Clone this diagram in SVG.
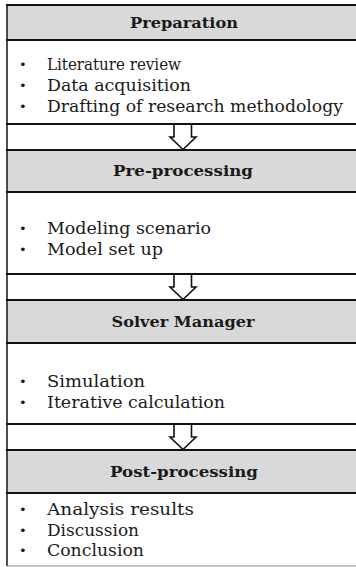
<svg xmlns="http://www.w3.org/2000/svg" width="356" height="567" viewBox="0 0 356 567">
<style>
.hdr{fill:#d9d9d9;stroke:none}
.sep{stroke:#111;stroke-width:2.2;fill:none}
.ht{font-family:"DejaVu Serif","Liberation Serif",serif;font-weight:bold;font-size:15.5px;fill:#1a1a1a;text-anchor:middle}
.it{font-family:"DejaVu Serif","Liberation Serif",serif;font-size:16.5px;fill:#1a1a1a}
.bl{font-family:"DejaVu Sans","Liberation Sans",sans-serif;font-size:13px;fill:#1a1a1a}
.arr{fill:#fff;stroke:#111;stroke-width:1.6;stroke-linejoin:miter}
</style>
<rect x="0" y="0" width="356" height="567" fill="#fff"/>
<g id="preparation">
<rect class="hdr" x="7" y="5" width="352" height="35"/>
<text class="ht" x="184" y="28" textLength="108" lengthAdjust="spacingAndGlyphs">Preparation</text>
<text class="bl" x="19" y="69">•</text><text class="it" x="47" y="70" textLength="134" lengthAdjust="spacingAndGlyphs">Literature review</text>
<text class="bl" x="19" y="90">•</text><text class="it" x="47" y="91" textLength="144" lengthAdjust="spacingAndGlyphs">Data acquisition</text>
<text class="bl" x="19" y="111">•</text><text class="it" x="47" y="112" textLength="296" lengthAdjust="spacingAndGlyphs">Drafting of research methodology</text>
</g>
<g id="pre-processing">
<rect class="hdr" x="7" y="150" width="352" height="42"/>
<text class="ht" x="183" y="176" textLength="140" lengthAdjust="spacingAndGlyphs">Pre-processing</text>
<text class="bl" x="19" y="233">•</text><text class="it" x="47" y="234" textLength="164" lengthAdjust="spacingAndGlyphs">Modeling scenario</text>
<text class="bl" x="19" y="254">•</text><text class="it" x="47" y="255" textLength="116" lengthAdjust="spacingAndGlyphs">Model set up</text>
</g>
<g id="solver-manager">
<rect class="hdr" x="7" y="300" width="352" height="43"/>
<text class="ht" x="183" y="327" textLength="143" lengthAdjust="spacingAndGlyphs">Solver Manager</text>
<text class="bl" x="19" y="386">•</text><text class="it" x="47" y="387" textLength="98" lengthAdjust="spacingAndGlyphs">Simulation</text>
<text class="bl" x="19" y="407">•</text><text class="it" x="47" y="408" textLength="178" lengthAdjust="spacingAndGlyphs">Iterative calculation</text>
</g>
<g id="post-processing">
<rect class="hdr" x="7" y="450" width="352" height="43"/>
<text class="ht" x="184" y="477" textLength="148" lengthAdjust="spacingAndGlyphs">Post-processing</text>
<text class="bl" x="19" y="514">•</text><text class="it" x="47" y="515" textLength="147" lengthAdjust="spacingAndGlyphs">Analysis results</text>
<text class="bl" x="19" y="535">•</text><text class="it" x="47" y="536" textLength="92" lengthAdjust="spacingAndGlyphs">Discussion</text>
<text class="bl" x="19" y="555">•</text><text class="it" x="47" y="556" textLength="97" lengthAdjust="spacingAndGlyphs">Conclusion</text>
</g>
<g id="frame">
<line x1="7" y1="4.5" x2="7" y2="566" stroke="#222" stroke-width="1.6"/>
<line x1="7" y1="566" x2="360" y2="566" stroke="#888" stroke-width="1.2"/>
<line class="sep" x1="6" y1="5" x2="360" y2="5"/>
<line class="sep" x1="6" y1="40" x2="360" y2="40"/>
<line class="sep" x1="6" y1="124" x2="360" y2="124"/>
<line class="sep" x1="6" y1="150" x2="360" y2="150"/>
<line class="sep" x1="6" y1="192" x2="360" y2="192"/>
<line class="sep" x1="6" y1="274" x2="360" y2="274"/>
<line class="sep" x1="6" y1="300" x2="360" y2="300"/>
<line class="sep" x1="6" y1="343" x2="360" y2="343"/>
<line class="sep" x1="6" y1="424" x2="360" y2="424"/>
<line class="sep" x1="6" y1="450" x2="360" y2="450"/>
<line class="sep" x1="6" y1="493" x2="360" y2="493"/>
</g>
<g id="connectors">
<path class="arr" d="M174,125 V137 H170 L183,149.5 L196,137 H191.5 V125"/>
<path class="arr" d="M174,275 V287 H170 L183,299.5 L196,287 H191.5 V275"/>
<path class="arr" d="M174,425 V437 H170 L183,449.5 L196,437 H191.5 V425"/>
</g>
</svg>
